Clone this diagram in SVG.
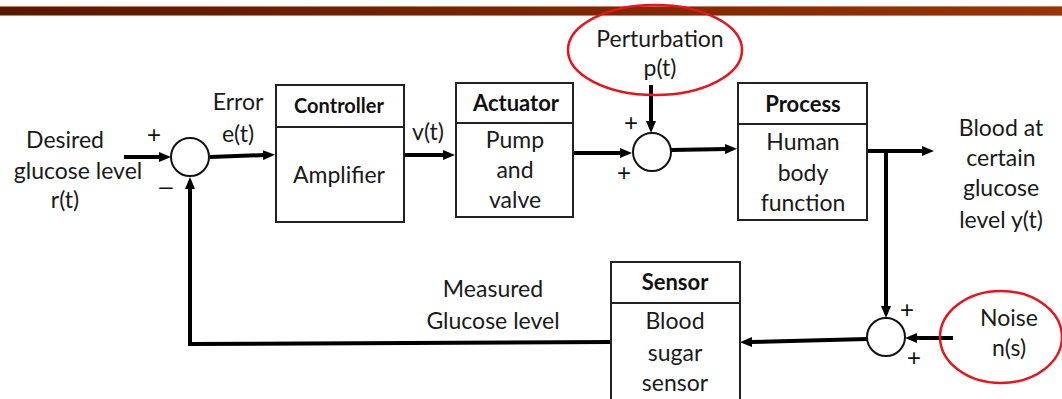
<svg xmlns="http://www.w3.org/2000/svg" width="1062" height="399" viewBox="0 0 1062 399">
<defs>
<linearGradient id="bar" x1="0" y1="0" x2="1" y2="0">
<stop offset="0" stop-color="#561800"/>
<stop offset="1" stop-color="#9c3300"/>
</linearGradient>
<marker id="ah" markerUnits="userSpaceOnUse" markerWidth="12" markerHeight="10" refX="2" refY="5" orient="auto">
<path d="M0,0 L12,5 L0,10 z" fill="#000"/>
</marker>
</defs>
<style>
.t{font-family:Lato,"Open Sans","Liberation Sans",sans-serif;font-size:23px;fill:#1a1a1a;text-anchor:middle}
.b{font-weight:bold;font-size:22px;fill:#111}
.bs{font-size:20px}
.box{fill:#fff;stroke:#222;stroke-width:2}
.sum{fill:#fff;stroke:#111;stroke-width:2}
.ell{fill:none;stroke:#e8141c;stroke-width:2.5}
.a{fill:none;stroke:#000;stroke-width:4;marker-end:url(#ah)}
.p{font-family:"Liberation Sans",sans-serif;font-size:24px;fill:#111;text-anchor:middle}
</style>
<rect x="0" y="0" width="1062" height="399" fill="#fff"/>
<g id="topbar">
<rect x="0" y="6" width="1062" height="10" fill="url(#bar)"/>
<line x1="0" y1="6.5" x2="1062" y2="6.5" stroke="#c08060" stroke-width="1"/>
<line x1="0" y1="15.5" x2="1062" y2="15.5" stroke="#c08060" stroke-width="1"/>
</g>
<g id="connectors">
<line class="a" x1="124" y1="157" x2="161" y2="157"/>
<line class="a" x1="210" y1="157" x2="265" y2="155"/>
<line class="a" x1="404" y1="155" x2="445" y2="155"/>
<line class="a" x1="573" y1="153" x2="622" y2="153"/>
<line class="a" x1="651" y1="85" x2="651" y2="123"/>
<line class="a" x1="671" y1="150" x2="727" y2="149"/>
<polyline class="a" points="867,151 887,151 924,151"/>
<line class="a" x1="886" y1="153" x2="886" y2="308"/>
<line class="a" x1="953" y1="338" x2="915" y2="338"/>
<line class="a" x1="867" y1="339" x2="750" y2="342"/>
<polyline class="a" points="611,342 190,344 190,187"/>
</g>
<g id="sum1">
<circle class="sum" cx="190" cy="157" r="19"/>
<text class="p" x="154" y="143">+</text>
<text class="p" x="166" y="194">–</text>
</g>
<g id="input-label">
<text class="t" x="65" y="148">Desired</text>
<text class="t" x="78" y="179">glucose level</text>
<text class="t" x="65" y="208">r(t)</text>
</g>
<g id="error-label">
<text class="t" x="238" y="110">Error</text>
<text class="t" x="238" y="142">e(t)</text>
</g>
<g id="controller">
<rect class="box" x="276" y="85" width="128" height="137"/>
<line x1="276" y1="127" x2="404" y2="127" stroke="#222" stroke-width="2"/>
<text class="t b bs" x="339" y="113">Controller</text>
<text class="t" x="339" y="183">Amplifier</text>
</g>
<g id="v-label">
<text class="t" x="428" y="140">v(t)</text>
</g>
<g id="actuator">
<rect class="box" x="456" y="83" width="117" height="134"/>
<line x1="456" y1="123" x2="573" y2="123" stroke="#222" stroke-width="2"/>
<text class="t b" x="516" y="111">Actuator</text>
<text class="t" x="515" y="148">Pump</text>
<text class="t" x="515" y="178">and</text>
<text class="t" x="515" y="208">valve</text>
</g>
<g id="perturbation">
<ellipse class="ell" cx="655" cy="50" rx="87" ry="45"/>
<text class="t" x="660" y="47">Perturbation</text>
<text class="t" x="660" y="76">p(t)</text>
</g>
<g id="sum2">
<circle class="sum" cx="652" cy="152" r="19"/>
<text class="p" x="631" y="131">+</text>
<text class="p" x="624" y="181">+</text>
</g>
<g id="process">
<rect class="box" x="738" y="83" width="129" height="137"/>
<line x1="738" y1="124" x2="867" y2="124" stroke="#222" stroke-width="2"/>
<text class="t b" x="803" y="112">Process</text>
<text class="t" x="803" y="150">Human</text>
<text class="t" x="803" y="181">body</text>
<text class="t" x="803" y="211">function</text>
</g>
<g id="output-label">
<text class="t" x="1001" y="136">Blood at</text>
<text class="t" x="1001" y="166">certain</text>
<text class="t" x="1001" y="196">glucose</text>
<text class="t" x="1001" y="228">level y(t)</text>
</g>
<g id="sensor">
<rect class="box" x="611" y="262" width="129" height="145"/>
<line x1="611" y1="303" x2="740" y2="303" stroke="#222" stroke-width="2"/>
<text class="t b" x="675" y="290">Sensor</text>
<text class="t" x="675" y="329">Blood</text>
<text class="t" x="675" y="361">sugar</text>
<text class="t" x="675" y="391">sensor</text>
</g>
<g id="sum3">
<circle class="sum" cx="886" cy="337" r="19"/>
<text class="p" x="907" y="318">+</text>
<text class="p" x="914" y="366">+</text>
</g>
<g id="noise">
<ellipse class="ell" cx="1001" cy="337" rx="61" ry="46"/>
<text class="t" x="1009" y="326">Noise</text>
<text class="t" x="1009" y="356">n(s)</text>
</g>
<g id="feedback-label">
<text class="t" x="493" y="297">Measured</text>
<text class="t" x="493" y="329">Glucose level</text>
</g>
</svg>
